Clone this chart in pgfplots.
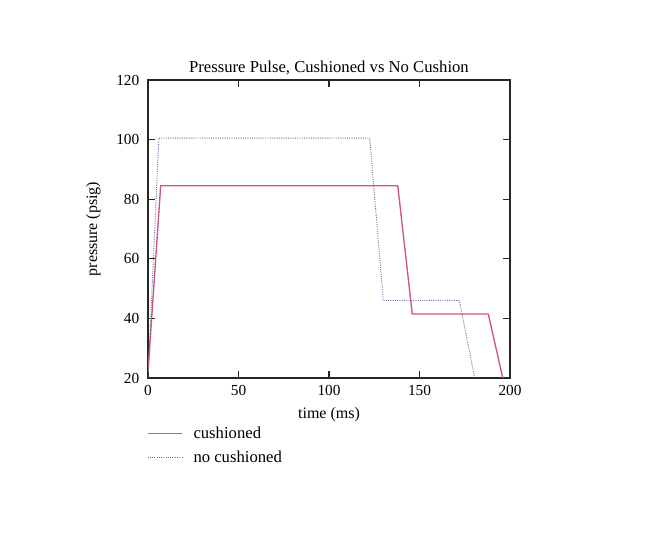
\documentclass[border=0pt]{standalone}
\usepackage{pgfplots}
\pgfplotsset{compat=1.18}
\usepackage{fontspec}
\setmainfont{Liberation Serif}
\definecolor{cush}{RGB}{205,85,130}
\definecolor{nocush}{RGB}{100,110,160}
\begin{document}
\begin{tikzpicture}
\path[fill=white] (0,0) rectangle (504pt,412.5pt);
\begin{axis}[
  at={(111pt,129pt)}, anchor=south west,
  scale only axis, width=271.5pt, height=223.5pt,
  xmin=0, xmax=200, ymin=20, ymax=120,
  xtick={0,50,100,150,200}, ytick={20,40,60,80,100,120},
  tick align=inside, major tick length=5pt,
  axis line style={line width=1pt, black!85},
  tick style={line width=0.8pt, black!85},
  /pgf/number format/assume math mode=true,
  ticklabel style={font=\fontsize{11.5}{12}\selectfont},
  xticklabel style={yshift=-2pt},
  yticklabel style={xshift=-3pt},
  xtick pos=both, ytick pos=both,
  xticklabel pos=lower, yticklabel pos=left,
  title={Pressure Pulse, Cushioned vs No Cushion},
  title style={font=\fontsize{12.5}{14}\selectfont, yshift=-6pt},
  xlabel={time (ms)}, ylabel={pressure (psig)},
  xlabel style={font=\fontsize{12}{13}\selectfont, yshift=-2pt},
  ylabel style={font=\fontsize{12}{13}\selectfont, yshift=5pt},
  legend style={at={(-0.015,-0.145)}, anchor=north west, draw=none, fill=none,
    font=\fontsize{12.5}{14}\selectfont, row sep=4pt},
  legend cell align=left,
  legend image code/.code={\draw[#1] (0pt,0pt) -- (26pt,0pt);},
]
\addplot[cush, line width=1pt] coordinates {
 (0,22) (7,84.5) (138,84.5) (146,41.5) (188,41.5) (196,20)};
\addlegendentry{\hspace{6pt}cushioned}
\addplot[nocush, line width=0.7pt, densely dotted] coordinates {
 (0,20) (6,100.5) (122.5,100.5) (130,46) (172,46) (180.5,20)};
\addlegendentry{\hspace{6pt}no cushioned}
\end{axis}
\end{tikzpicture}
\end{document}
